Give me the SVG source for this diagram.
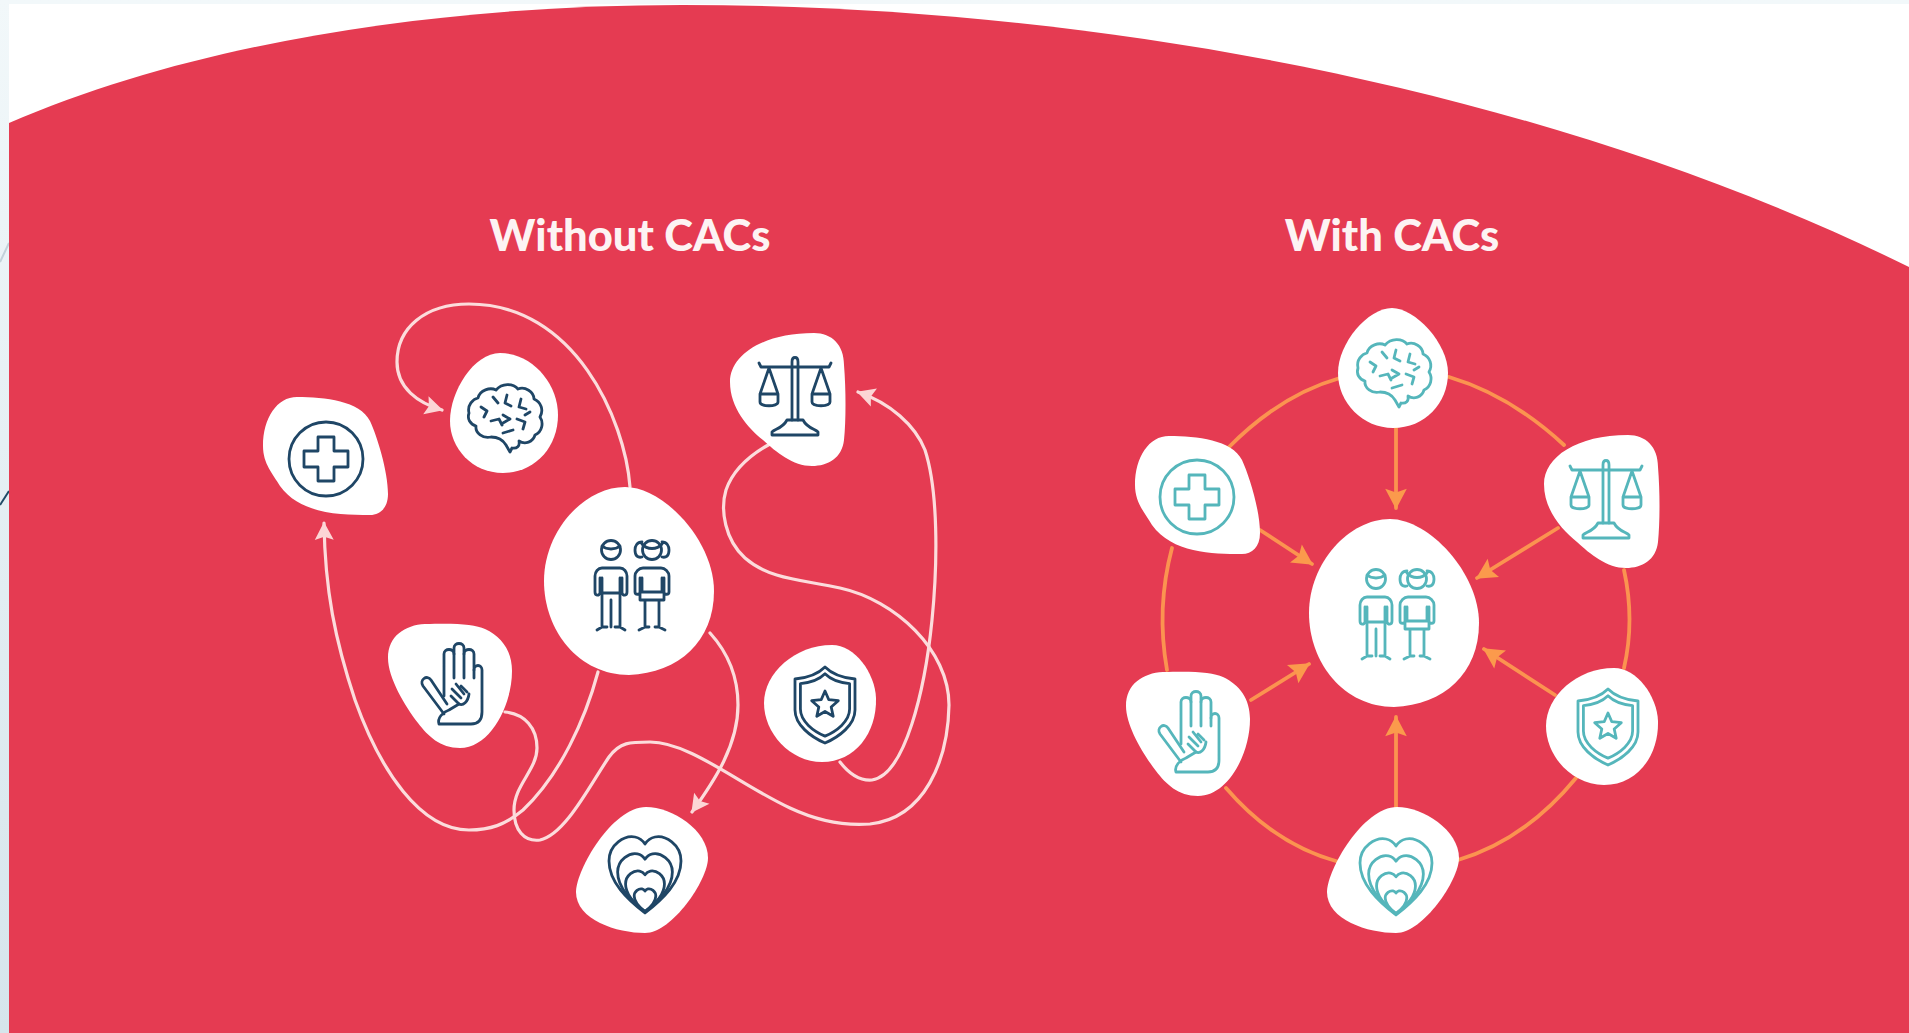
<svg xmlns="http://www.w3.org/2000/svg" width="1909" height="1033" viewBox="0 0 1909 1033">
<style>
.blob{fill:#fff;stroke:none}
.ico{fill:none;stroke-width:2.8;stroke-linejoin:round;stroke-linecap:round}
.ico *{vector-effect:non-scaling-stroke}
.dark{stroke:#1f4666}
.teal{stroke:#55b6bb}
.title{font-family:"Lato","Liberation Sans",sans-serif;font-weight:900;font-size:43.5px;fill:#fdf3f3;text-anchor:middle}
.w{fill:none;stroke:#fcdcdc;stroke-width:3.2;stroke-linecap:round}
.o{fill:none;stroke:#fb9350;stroke-width:3.8;stroke-linecap:round}
</style>
<defs>
<linearGradient id="side" x1="0" y1="0" x2="0" y2="1"><stop offset="0" stop-color="#f2f8fa"/><stop offset="1" stop-color="#d6e5ec"/></linearGradient>
<marker id="aw" viewBox="0 0 20 20" refX="18" refY="10" markerWidth="21" markerHeight="21" markerUnits="userSpaceOnUse" orient="auto"><path d="M2,1 L19,10 L2,19 L5,10Z" fill="#fcd5d5"/></marker>
<marker id="ao" viewBox="0 0 20 20" refX="18" refY="10" markerWidth="24" markerHeight="24" markerUnits="userSpaceOnUse" orient="auto"><path d="M2,1 L19,10 L2,19 L5,10Z" fill="#fb9a4c"/></marker>
<path id="bPlus" d="M-28,-59 C0,-59 35,-55 45,-35 C52,-20 63,15 63,38 C63,52 55,59 45,59 C15,59 -25,58 -45,30 C-52,18 -62,8 -62,-10 C-62,-38 -48,-59 -28,-59Z"/>
<path id="bBrainL" d="M-4,-60 C28,-60 54,-30 54,2 C54,35 30,60 -1,60 C-32,60 -54,35 -54,8 C-54,-22 -30,-60 -4,-60Z"/>
<path id="bBrainR" d="M-1,-60 C22,-60 55,-25 55,5 C55,35 32,60 0,60 C-30,60 -55,35 -55,5 C-55,-25 -25,-60 -1,-60Z"/>
<path id="bCenter" d="M-4,-94 C35,-94 85,-40 85,10 C85,60 50,92 0,94 C-50,94 -85,50 -85,0 C-85,-50 -45,-94 -4,-94Z"/>
<path id="bScale" d="M26,-67 C44,-67 56,-55 56,-35 C58,-10 58,20 56,40 C54,58 40,66 24,66 C5,66 -12,52 -25,40 C-40,28 -58,8 -58,-18 C-58,-45 -25,-67 26,-67Z"/>
<path id="bHand" d="M-25,-62 C5,-63 25,-62 35,-57 C52,-49 62,-35 62,-15 C62,20 40,62 10,62 C-10,62 -22,50 -32,37 C-45,20 -62,-8 -62,-28 C-62,-50 -45,-61 -25,-62Z"/>
<path id="bShield" d="M12,-58 C35,-58 55,-30 56,-5 C57,30 35,59 2,59 C-30,59 -56,30 -56,0 C-56,-30 -25,-58 12,-58Z"/>
<path id="bHeart" d="M4,-63 C30,-63 66,-40 66,-12 C66,10 30,63 3,63 C-25,63 -66,50 -66,22 C-66,0 -30,-63 4,-63Z"/>
<g id="iPlus" class="ico"><circle r="37"/><path d="M-8,-22 H8 V-8 H22 V8 H8 V22 H-8 V8 H-22 V-8 H-8Z"/></g>
<g id="iBrain" class="ico"><path d="M-36,-4 C-38,-12 -32,-18 -27,-19 C-25,-27 -15,-30 -9,-27 C-3,-34 8,-34 13,-28 C20,-31 29,-25 29,-18 C36,-15 39,-7 35,0 C39,6 37,15 30,18 C28,25 20,28 14,24 C15,29 12,32 7,31 L5,35 L1,28 C-2,23 -8,20 -14,20 C-22,22 -30,16 -29,9 C-35,7 -38,2 -36,-4Z"/><path d="M-24,-10 l6,4 l-3,6 M-12,-20 l5,6 M2,-22 l-2,8 l6,3 M16,-18 l-2,8 l7,2 M-14,4 l8,-2 l3,6 M-2,-2 l7,4 l-7,4 M12,2 l8,3 l-2,7 M-2,16 l10,-3 M25,-5 l-5,3"/></g>
<g id="iKids" class="ico">
<circle cx="-20" cy="-36" r="9.5"/><path d="M-29,-40 C-24,-36 -16,-36 -11,-40"/>
<path d="M-29,-18 H-11 C-7,-18 -4,-14 -4,-10 V6 C-4,10 -8,10 -9,7 V-8 M-31,-8 V7 C-32,10 -36,10 -36,6 V-10 C-36,-14 -33,-18 -29,-18 M-29,-8 V7 H-11 V-8 M-29,7 V41 M-11,7 V41 M-20,14 V41 M-34,44 L-29,41 H-24 M-6,44 L-11,41 H-16"/>
<circle cx="21" cy="-36" r="9.5"/><path d="M11,-44 C6,-44 4,-40 4,-36 C4,-30 7,-28 11,-29 M31,-44 C36,-44 38,-40 38,-36 C38,-30 35,-28 31,-29 M11,-42 C16,-36 26,-36 31,-42"/>
<path d="M12,-18 H30 C34,-18 38,-14 38,-10 V6 C38,9 33,9 33,6 V-8 M9,-8 V6 C9,9 4,9 4,6 V-10 C4,-14 8,-18 12,-18 M11,-8 V6 M31,-8 V6 M9,6 H33 V14 H9Z M14,14 V41 M28,14 V41 M8,44 L14,41 H18 M34,44 L28,41 H24"/>
</g>
<g id="iScale" class="ico"><path d="M-3,-34 C-3,-40 3,-40 3,-34 V24 M-3,-34 V24 M-36,-33 L-34,-29 H34 L36,-33"/>
<path d="M-26,-28 L-35,-2 V6 C-35,11 -17,11 -17,6 V-2Z M-35,-2 H-17 M26,-28 L17,-2 V6 C17,11 35,11 35,6 V-2Z M17,-2 H35"/>
<path d="M-8,24 H8 C12,32 20,33 23,36 V39 H-23 V36 C-20,33 -12,32 -8,24Z"/></g>
<g id="iHand" class="ico"><path d="M-9,12 V-30 C-9,-36 1,-36 1,-30 V-36 C1,-42 11,-42 11,-36 V-30 C11,-36 21,-36 21,-30 V-14 C21,-20 29,-20 29,-14 V28 C29,36 25,40 18,40 H-14 C-16,34 -10,28 -4,26 L6,20"/>
<path d="M-9,30 L-30,2 C-34,-4 -26,-10 -22,-4 L-6,20 M1,-30 V-6 M11,-30 V-6 M21,-14 V-6"/><path d="M6,20 L-2,12 M8,14 L-1,5 M11,10 L3,0 M14,8 L8,2 M6,20 C10,22 15,18 16,10"/></g>
<g id="iShield" class="ico"><path d="M0,-38 C8,-30 18,-27 30,-26 V5 C30,20 14,32 0,38 C-14,32 -30,20 -30,5 V-26 C-18,-27 -8,-30 0,-38Z"/><path transform="scale(.82)" d="M0,-38 C8,-30 18,-27 30,-26 V5 C30,20 14,32 0,38 C-14,32 -30,20 -30,5 V-26 C-18,-27 -8,-30 0,-38Z"/><path d="M0,-14 L3.8,-5.3 13.3,-4.3 6.2,2 8.2,11.3 0,6.5 -8.2,11.3 -6.2,2 -13.3,-4.3 -3.8,-5.3Z"/></g>
<g id="iHeart" class="ico"><path d="M0,39 C-18,25 -36,8 -36,-13 C-36,-30 -20,-39 -10,-37 C-5,-36 -2,-33 0,-30 C2,-33 5,-36 10,-37 C20,-39 36,-30 36,-13 C36,8 18,25 0,39Z"/><path transform="translate(0,8) scale(.76)" d="M0,39 C-18,25 -36,8 -36,-13 C-36,-30 -20,-39 -10,-37 C-5,-36 -2,-33 0,-30 C2,-33 5,-36 10,-37 C20,-39 36,-30 36,-13 C36,8 18,25 0,39Z"/><path transform="translate(0,17) scale(.54)" d="M0,39 C-18,25 -36,8 -36,-13 C-36,-30 -20,-39 -10,-37 C-5,-36 -2,-33 0,-30 C2,-33 5,-36 10,-37 C20,-39 36,-30 36,-13 C36,8 18,25 0,39Z"/><path transform="translate(0,26) scale(.3)" d="M0,39 C-18,25 -36,8 -36,-13 C-36,-30 -20,-39 -10,-37 C-5,-36 -2,-33 0,-30 C2,-33 5,-36 10,-37 C20,-39 36,-30 36,-13 C36,8 18,25 0,39Z"/></g>
</defs>

<rect width="1909" height="1033" fill="url(#side)"/>
<path d="M0,262 L9,243" stroke="#c3d2da" stroke-width="2" fill="none"/>
<path d="M0,505 L9,491" stroke="#1f4a66" stroke-width="2" fill="none"/>
<rect x="9" y="4" width="1900" height="1029" fill="#fff"/>
<path id="field" d="M9,123 C200,40 450,5 682,5 C1100,5 1550,90 1909,267 V1033 H9Z" fill="#e53b52"/>

<text class="title" x="630" y="251">Without CACs</text>
<text class="title" x="1392" y="251">With CACs</text>

<g id="connectors">
<g id="without-connectors">
<path class="w" marker-end="url(#aw)" d="M630,487 C625,420 575,304 469,304 C425,304 397,328 397,362 C397,388 418,403 442,410"/>
<path class="w" marker-end="url(#aw)" d="M598,672 C585,720 560,775 523,810 C505,825 490,830 469,830 C420,830 380,770 355,700 C335,640 325,590 324,523"/>
<path class="w" d="M505,712 C525,714 537,728 537,748 C537,770 514,785 514,810 C514,830 524,842 540,840 C565,835 590,785 609,757 C620,742 630,742 650,742 C690,742 740,785 790,808 C820,822 845,826 870,824 C925,818 948,760 949,705 C949,650 895,600 840,588 C805,580 770,580 745,558 C725,540 720,510 726,490 C733,470 750,455 770,444"/>
<path class="w" marker-end="url(#aw)" d="M840,762 C850,775 860,781 872,780 C905,775 925,690 932,620 C938,560 938,490 925,450 C915,425 890,403 858,392"/>
<path class="w" marker-end="url(#aw)" d="M710,633 C730,655 738,680 738,705 C738,745 715,780 692,812"/>
</g>
<g id="with-connectors">
<path class="o" d="M1340,378 Q1280,395 1228,448"/>
<path class="o" d="M1449,377 Q1510,395 1564,445"/>
<path class="o" d="M1172,548 Q1156,608 1167,670"/>
<path class="o" d="M1624,570 Q1635,620 1624,668"/>
<path class="o" d="M1226,788 Q1275,845 1339,862"/>
<path class="o" d="M1576,778 Q1525,840 1458,860"/>
<path class="o" marker-end="url(#ao)" d="M1396,428 V508"/>
<path class="o" marker-end="url(#ao)" d="M1260,530 L1312,564"/>
<path class="o" marker-end="url(#ao)" d="M1558,528 L1477,578"/>
<path class="o" marker-end="url(#ao)" d="M1251,700 L1309,664"/>
<path class="o" marker-end="url(#ao)" d="M1555,695 L1484,649"/>
<path class="o" marker-end="url(#ao)" d="M1396,808 V717"/>
</g>
</g>

<g class="dark">
<g id="l-plus"><use href="#bPlus" class="blob" x="325" y="456"/><use href="#iPlus" x="326" y="459"/></g>
<g id="l-brain"><use href="#bBrainL" class="blob" x="504" y="413"/><use href="#iBrain" x="505" y="417"/></g>
<g id="l-children"><use href="#bCenter" class="blob" x="629" y="581"/><use href="#iKids" x="631" y="586"/></g>
<g id="l-scale"><use href="#bScale" class="blob" x="788" y="400"/><use href="#iScale" x="795" y="396"/></g>
<g id="l-hand"><use href="#bHand" class="blob" x="450" y="686"/><use href="#iHand" x="453" y="684"/></g>
<g id="l-shield"><use href="#bShield" class="blob" x="820" y="703"/><use href="#iShield" x="825" y="705"/></g>
<g id="l-heart"><use href="#bHeart" class="blob" x="642" y="870"/><use href="#iHeart" x="645" y="874"/></g>
</g>
<g class="teal">
<g id="r-plus"><use href="#bPlus" class="blob" x="1197" y="495"/><use href="#iPlus" x="1197" y="497"/></g>
<g id="r-brain"><use href="#bBrainR" class="blob" x="1393" y="368"/><use href="#iBrain" x="1394" y="372"/></g>
<g id="r-children"><use href="#bCenter" class="blob" x="1394" y="613"/><use href="#iKids" x="1396" y="615"/></g>
<g id="r-scale"><use href="#bScale" class="blob" x="1602" y="502"/><use href="#iScale" x="1606" y="499"/></g>
<g id="r-hand"><use href="#bHand" class="blob" x="1188" y="734"/><use href="#iHand" x="1190" y="732"/></g>
<g id="r-shield"><use href="#bShield" class="blob" x="1602" y="726"/><use href="#iShield" x="1608" y="727"/></g>
<g id="r-heart"><use href="#bHeart" class="blob" x="1393" y="870"/><use href="#iHeart" x="1396" y="876"/></g>
</g>
</svg>
